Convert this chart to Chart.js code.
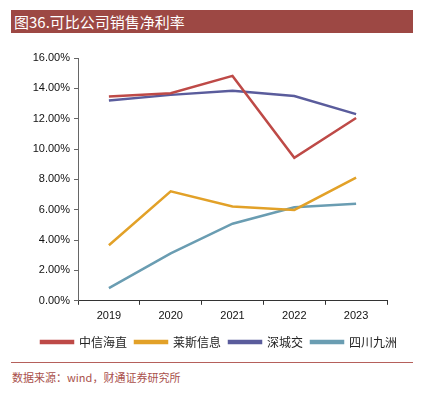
<!DOCTYPE html>
<html>
<head>
<meta charset="utf-8">
<script src="https://cdn.jsdelivr.net/npm/chart.js@4/dist/chart.umd.min.js"></script>
<style>
  body { margin: 0; background: #fff; width: 422px; height: 398px; position: relative; overflow: hidden; }
  #title { position: absolute; left: 11px; top: 10px; width: 402px; height: 23px; background: #9d4844;
           color: #fff; font-family: "Noto Sans CJK SC", serif; font-size: 15px; line-height: 23px; padding-left: 3px; box-sizing: border-box; }
  #box { position: absolute; left: 0; top: 36px; width: 422px; height: 322px; }
  #rule { position: absolute; left: 11px; top: 362px; width: 402px; height: 1px; background: #b5605b; }
  #src { position: absolute; left: 12px; top: 369px; font-family: "Noto Sans CJK SC", serif; font-size: 11px; color: #a9504b; }
</style>
</head>
<body>
<div id="title">图36.可比公司销售净利率</div>
<div id="box"><canvas id="c"></canvas></div>
<div id="rule"></div>
<div id="src">数据来源：wind，财通证券研究所</div>
<script>
const years = ['2019', '2020', '2021', '2022', '2023'];
const zhongxin = [13.46, 13.68, 14.82, 9.43, 12.05];
const laisi = [3.66, 7.21, 6.21, 5.99, 8.12];
const shenchengjiao = [13.2, 13.57, 13.84, 13.5, 12.3];
const sichuan = [0.83, 3.12, 5.08, 6.17, 6.39];

function line(label, data, color) {
    return { label: label, data: data, borderColor: color, backgroundColor: color,
             borderWidth: 2.5, pointRadius: 0, tension: 0, fill: false };
}

new Chart(document.getElementById('c'), {
    type: 'line',
    data: {
        labels: years,
        datasets: [
            line('中信海直', zhongxin, '#be4a47'),
            line('莱斯信息', laisi, '#e2a128'),
            line('深城交', shenchengjiao, '#5a5c9c'),
            line('四川九洲', sichuan, '#6a9db2')
        ]
    },
    options: {
        responsive: true,
        maintainAspectRatio: false,
        animation: false,
        layout: { padding: { left: 16, right: 0, top: 22, bottom: 0 } },
        plugins: {
            tooltip: { enabled: false },
            legend: {
                position: 'bottom',
                labels: {
                    boxWidth: 32, boxHeight: 2, padding: 8,
                    color: '#222',
                    font: { family: '"Noto Sans CJK SC"', size: 12 }
                }
            }
        },
        scales: {
            x: {
                offset: true,
                grid: { offset: true, drawOnChartArea: false, drawTicks: true, tickLength: 4, color: '#333' },
                border: { color: '#333', width: 1 },
                ticks: { color: '#111', font: { family: '"Liberation Sans"', size: 11 }, padding: 5 }
            },
            y: {
                min: 0, max: 16,
                afterFit: s => { s.width = 62; },
                grid: { drawOnChartArea: false, drawTicks: true, tickLength: 4, color: '#666' },
                border: { color: '#666', width: 1 },
                ticks: { stepSize: 2, color: '#111', font: { family: '"Liberation Sans"', size: 11 }, padding: 4,
                         callback: v => v.toFixed(2) + '%' }
            },
            spacer: {
                position: 'right',
                min: 0, max: 16,
                afterFit: s => { s.width = 35; },
                grid: { display: false },
                border: { display: false },
                ticks: { display: false }
            }
        }
    }
});
</script>
</body>
</html>
